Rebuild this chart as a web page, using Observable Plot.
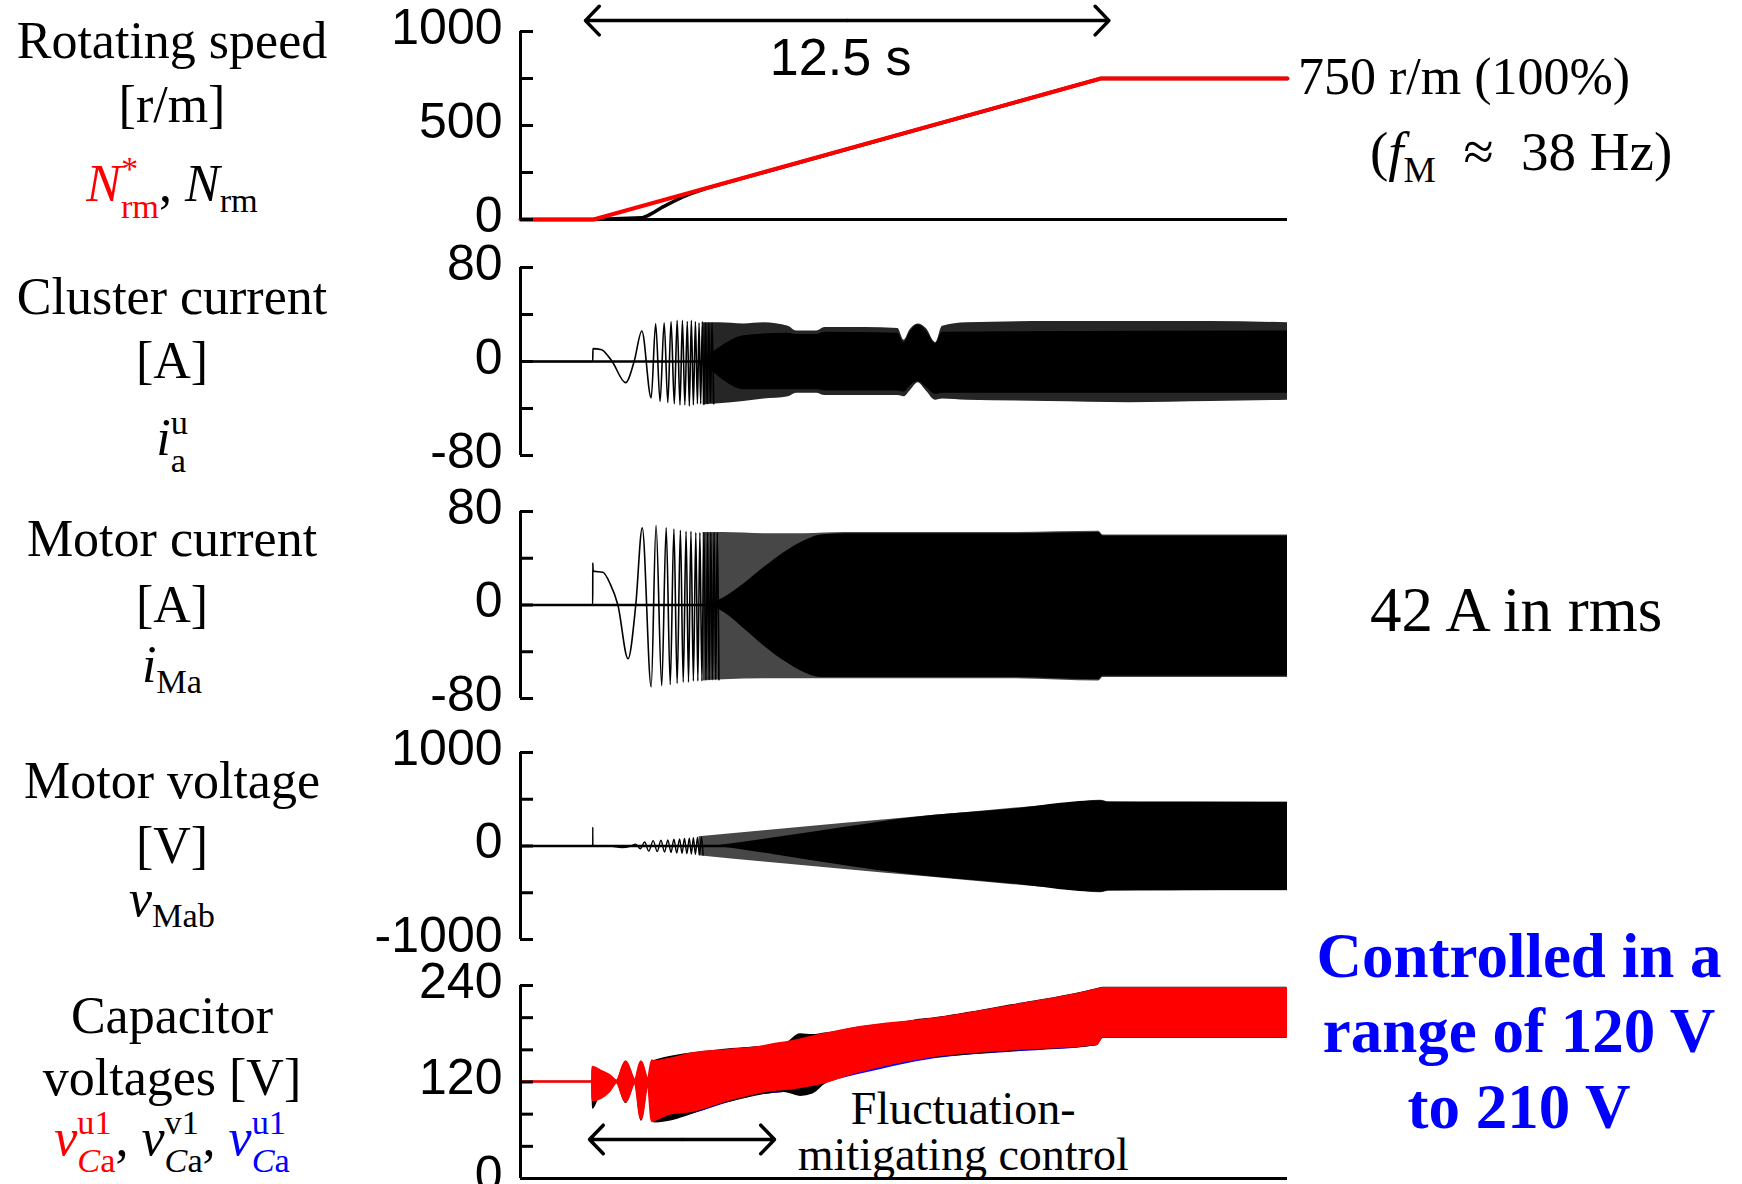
<!DOCTYPE html>
<html><head><meta charset="utf-8">
<script src="https://cdn.jsdelivr.net/npm/d3@7"></script>
<script src="https://cdn.jsdelivr.net/npm/@observablehq/plot@0.6"></script>
<style>
html,body{margin:0;padding:0;background:#fff}
#fig{position:relative;width:1742px;height:1184px;overflow:hidden;background:#fff;font-family:"Liberation Serif","Times New Roman",serif;color:#000}
.lab{position:absolute;left:0;width:344px;text-align:center;font-size:52px;line-height:1;white-space:nowrap}
.ann{position:absolute;white-space:nowrap;font-size:52px;line-height:1}
.pn{position:absolute;left:0}
.ms{display:inline-block;vertical-align:-0.5em;font-size:0.66em;line-height:1.12;text-align:left;font-style:normal}
.ms span{display:block}
.sb{font-size:0.66em;vertical-align:-0.32em;font-style:normal}
.red{color:#ff0000}.blue{color:#0000ff}
.big{font-weight:bold;color:#0000ff;font-size:63px;text-align:center;width:460px;left:1289px}
</style></head><body><div id="fig"></div>
<script>
// ---------------- data ----------------
const timeDomain = [0, 18.9];            // seconds across the plot width

// Panel 1: rotating speed [r/m]
const speedTicks = [0, 250, 500, 750, 1000];
const speedLabels = [0, 500, 1000];
const speedRef = [[0, 0], [1.8, 0], [14.3, 750], [18.9, 750]];            // N*rm
const speedActual = [[0, 0], [1.8, 0], [3.0, 9], [3.15, 22], [3.3, 40], [3.5, 66], [3.77, 96], [4.0, 120], [4.2, 138], [4.6, 167], [14.3, 750], [18.9, 750]]; // Nrm
const rampArrow = [[8.05, 1.6], [8.05, 14.5]];   // [from, to] of the 12.5 s arrow
const rampArrowLevel = 1058;
const rampText = [{t: 7.89, v: 856, label: "12.5 s"}];

// Panel 2: cluster current [A]
const clusterTicks = [-80, -40, 0, 40, 80];
const clusterLabels = [-80, 0, 80];
const clusterBase = [[0, 0], [4.9, 0]];
const clusterWave = [[0, 0], [1.78, 0], [1.785, 11], [2.0, 10], [2.15, 5], [2.26, 0], [2.59, -18], [2.8, 0], [2.99, 26], [3.22, -31],
  [3.33, 32], [3.44, -34], [3.54, 33], [3.63, -35], [3.71, 34], [3.79, -36], [3.86, 35], [3.93, -37], [3.99, 35], [4.05, -37],
  [4.11, 34], [4.16, -38], [4.21, 35], [4.26, -37], [4.31, 34], [4.36, -36], [4.40, 33], [4.44, -36], [4.48, 34], [4.52, -37],
  [4.56, 33], [4.60, -36], [4.64, 33], [4.68, -35], [4.72, 33], [4.76, -36]];
const clusterOuter = [[4.5, 33, -37], [4.9, 33, -36], [5.5, 32, -34], [6.0, 33, -32], [6.6, 30, -30], [6.8, 26, -27], [7.3, 26, -27],
  [7.5, 29, -29], [8.5, 29, -29], [9.3, 28, -29], [9.45, 18, -30], [9.6, 27, -25], [9.8, 32, -18], [10.0, 28, -25], [10.23, 16, -33],
  [10.4, 30, -32], [11, 33, -33], [13, 34, -34], [15, 34, -35], [17, 34, -34], [18.9, 33, -33]];
const clusterInner = [[4.6, 4, -4], [5.0, 14, -16], [5.5, 22, -24], [6.6, 24, -24], [6.8, 23, -24], [7.3, 23, -24], [7.5, 25, -25],
  [9.3, 24, -25], [9.45, 16, -26], [9.6, 25, -21], [9.8, 31, -17], [10.0, 26, -22], [10.23, 15, -28], [10.4, 25, -27], [18.9, 26, -27]];

// Panel 3: motor current [A]
const motorTicks = [-80, -40, 0, 40, 80];
const motorLabels = [-80, 0, 80];
const motorBase = [[0, 0], [4.9, 0]];
const motorWave = [[0, 0], [1.78, 0], [1.781, 36], [1.79, 29], [2.03, 28], [2.21, 18], [2.40, 0], [2.65, -46], [2.84, 0], [3.0, 66],
  [3.22, -70], [3.34, 68], [3.48, -69], [3.59, 66], [3.69, -68], [3.78, 65], [3.86, -67], [3.94, 64], [4.01, -66], [4.08, 63],
  [4.14, -66], [4.20, 63], [4.26, -65], [4.32, 62], [4.37, -65], [4.42, 62], [4.47, -65], [4.52, 62], [4.57, -64], [4.61, 62],
  [4.65, -64], [4.69, 62], [4.73, -64], [4.77, 62], [4.81, -64], [4.85, 62], [4.89, -64]];
const motorOuter = [[4.5, 62, -65], [5, 62, -64], [6, 61, -63], [7, 61, -63], [8, 62, -63], [10, 62, -63], [12, 62, -63],
  [14.25, 63, -65], [14.35, 60, -62], [16, 60, -62], [18.9, 60, -62]];
const motorInner = [[4.6, 0, 0], [5.0, 6, -6], [5.5, 18, -20], [6.0, 32, -35], [6.5, 45, -48], [7.0, 55, -58], [7.4, 60, -62],
  [8, 61, -62], [10, 61, -62], [12, 61, -62], [14.25, 62, -64], [14.35, 59, -61], [16, 59, -61], [18.9, 59, -61]];

// Panel 4: motor voltage [V]
const voltTicks = [-1000, -500, 0, 500, 1000];
const voltLabels = [-1000, 0, 1000];
const voltBase = [[0, 0], [5.5, 0]];
const voltWave = [[0, 0], [1.78, 0], [1.781, 200], [1.783, 0], [2.2, 0], [2.5, -17], [2.7, -4], [2.84, 20], [2.95, -30], [3.06, 42],
  [3.16, -55], [3.27, 57], [3.37, -60], [3.46, 62], [3.55, -64], [3.63, 66], [3.71, -69], [3.78, 72], [3.85, -74], [3.92, 76],
  [3.98, -78], [4.04, 80], [4.10, -82], [4.16, 84], [4.21, -86], [4.26, 88], [4.31, -90], [4.36, 92], [4.41, -94], [4.46, 96], [4.50, -98]];
const voltOuter = [[4.4, 100, -103], [6, 164, -170], [8, 242, -250], [10, 320, -328], [12, 398, -408], [13.5, 455, -465],
  [14.3, 490, -500], [14.5, 472, -483], [16, 470, -480], [18.9, 470, -478]];
const voltInner = [[4.8, 0, 0], [6.3, 90, -95], [8, 200, -210], [9.6, 300, -305], [12, 390, -400], [14.3, 485, -495],
  [14.5, 468, -478], [18.9, 466, -476]];

// Panel 5: capacitor voltages [V]  (t, upper, lower)
const capTicks = [0, 40, 80, 120, 160, 200, 240];
const capLabels = [0, 120, 240];
const capRed = [[0, 120, 120], [1.78, 120, 120], [1.785, 138, 97], [2.0, 133, 100], [2.2, 128, 108], [2.38, 121, 119], [2.6, 145, 95],
  [2.83, 122, 119], [2.98, 145, 74], [3.15, 122, 118], [3.25, 146, 71], [3.3, 145, 72], [3.68, 148, 80], [4.27, 155, 84], [5.1, 159, 97],
  [5.91, 163, 107], [6.33, 167, 110], [6.73, 170, 112], [7.4, 178, 118], [8.3, 187, 132], [10.2, 198, 152], [12.1, 214, 160],
  [14.2, 234, 167], [14.35, 236, 176], [16, 236, 176], [18.87, 236, 176]];
const capBlack = [[0, 120, 120], [1.78, 120, 120], [1.785, 124, 87], [1.9, 132, 98], [2.38, 121, 119], [2.6, 145, 94], [2.83, 122, 119],
  [2.98, 145, 72], [3.15, 122, 118], [3.3, 146, 70], [5.1, 160, 95], [6.5, 166, 108], [6.9, 179, 103], [7.2, 178, 106], [7.5, 180, 118],
  [9.4, 193, 146], [9.7, 196, 149], [10.2, 199, 151], [12.1, 215, 159], [14.2, 235, 166], [14.35, 237, 175], [18.87, 237, 175]];
const capBlue = [[3.3, 145, 70], [4.3, 155, 81], [5.1, 160, 94], [5.9, 164, 104], [6.5, 168, 107], [8.3, 188, 129], [10.2, 199, 149],
  [12.1, 215, 157], [14.2, 235, 165], [14.35, 237, 174], [18.87, 237, 174]];
const flucArrow = [[4.0, 1.7], [4.0, 6.26]];
const flucArrowLevel = 48.5;
const flucText = [{t: 10.91, v: 86, label: "Fluctuation-"}, {t: 10.91, v: 28.6, label: "mitigating control"}];

// ---------------- drawing ----------------
const fig = document.getElementById("fig");
const RED = "#ff0000", BLUE = "#0000ff";
const T = d => d[0], V = d => d[1], HI = d => d[1], LO = d => d[2];

function addPanel(p) {
  const mt = 40, mb = 8;
  const svg = Plot.plot({
    width: 1300, height: (p.yBot - p.yTop) + mt + mb,
    marginLeft: 520, marginRight: 13, marginTop: mt, marginBottom: mb,
    x: {domain: timeDomain, axis: null},
    y: {domain: p.domain, axis: null},
    style: {background: "transparent", overflow: "visible", fontFamily: "'Liberation Sans', Arial, sans-serif", fontSize: "50px", color: "black"},
    marks: [
      ...p.marks,
      Plot.ruleX([0], {stroke: "black", strokeWidth: 3}),
      Plot.axisY(p.ticks, {tickSize: 13, dx: 13, fill: "none", stroke: "black", strokeWidth: 3}),
      Plot.axisY(p.labels, {tickSize: 0, tickPadding: 18, dy: -4, tickFormat: d => String(d), label: null, fontSize: 50, fill: "black"})
    ]
  });
  svg.classList.add("pn");
  svg.style.top = (p.yTop - mt) + "px";
  svg.style.position = "absolute";
  svg.style.left = "0px";
  fig.appendChild(svg);
}

function arrows(pairs, level, opts = {}) {
  return Plot.arrow(pairs, {x1: d => d[0], x2: d => d[1], y1: () => level, y2: () => level,
    stroke: "black", strokeWidth: 3.5, headLength: 8.5, headAngle: 92, ...opts});
}

function band(data, fill, extra = {}) {
  return Plot.areaY(data, {x: T, y1: LO, y2: HI, fill, curve: "monotone-x", ...extra});
}

addPanel({
  yTop: 31, yBot: 219, domain: [0, 1000], ticks: speedTicks, labels: speedLabels,
  marks: [
    Plot.ruleY([0], {stroke: "black", strokeWidth: 3}),
    Plot.line(speedActual, {x: T, y: V, stroke: "black", strokeWidth: 3.5}),
    Plot.line(speedRef, {x: T, y: V, stroke: RED, strokeWidth: 4}),
    arrows(rampArrow, rampArrowLevel),
    Plot.text(rampText, {x: "t", y: "v", text: "label", fontSize: 52, fill: "black"})
  ]
});

addPanel({
  yTop: 267, yBot: 455, domain: [-80, 80], ticks: clusterTicks, labels: clusterLabels,
  marks: [
    band(clusterOuter, "black", {fillOpacity: 0.85}),
    band(clusterInner, "black"),
    Plot.line(clusterBase, {x: T, y: V, stroke: "black", strokeWidth: 2.5}),
    Plot.line(clusterWave, {x: T, y: V, stroke: "black", strokeWidth: 1.6, curve: "monotone-x"})
  ]
});

addPanel({
  yTop: 511, yBot: 698, domain: [-80, 80], ticks: motorTicks, labels: motorLabels,
  marks: [
    band(motorOuter, "black", {fillOpacity: 0.72}),
    band(motorInner, "black"),
    Plot.line(motorBase, {x: T, y: V, stroke: "black", strokeWidth: 2.5}),
    Plot.line(motorWave, {x: T, y: V, stroke: "black", strokeWidth: 1.6, curve: "monotone-x"})
  ]
});

addPanel({
  yTop: 752, yBot: 939, domain: [-1000, 1000], ticks: voltTicks, labels: voltLabels,
  marks: [
    band(voltOuter, "black", {fillOpacity: 0.72}),
    band(voltInner, "black"),
    Plot.line(voltBase, {x: T, y: V, stroke: "black", strokeWidth: 2.5}),
    Plot.line(voltWave, {x: T, y: V, stroke: "black", strokeWidth: 1.4, curve: "monotone-x"})
  ]
});

addPanel({
  yTop: 985, yBot: 1178, domain: [0, 240], ticks: capTicks, labels: capLabels,
  marks: [
    Plot.ruleY([0], {stroke: "black", strokeWidth: 3}),
    band(capBlue, BLUE),
    band(capBlack, "black", {stroke: "black", strokeWidth: 1.5}),
    band(capRed, RED, {stroke: RED, strokeWidth: 2.5}),
    arrows(flucArrow, flucArrowLevel),
    Plot.text(flucText, {x: "t", y: "v", text: "label", fontSize: 46, fontFamily: "'Liberation Serif', serif", fill: "black"})
  ]
});

// ---------------- text labels (HTML) ----------------
function put(cls, top, html, extraStyle = "") {
  const d = document.createElement("div");
  d.className = cls;
  d.style.cssText = `top:${top}px;` + extraStyle;
  d.innerHTML = html;
  fig.appendChild(d);
}
const lab = (yc, html) => put("lab", Math.round(yc - 29), html);
lab(44, "Rotating speed");
lab(108, "[r/m]");
lab(178, `<span class="red"><i>N</i><span class="ms"><span>*</span><span>rm</span></span></span>, <i>N</i><span class="sb">rm</span>`);
lab(300, "Cluster current");
lab(364, "[A]");
lab(432, `<i>i</i><span class="ms"><span>u</span><span>a</span></span>`);
lab(542, "Motor current");
lab(608, "[A]");
lab(668, `<i>i</i><span class="sb">Ma</span>`);
lab(784, "Motor voltage");
lab(849, "[V]");
lab(902, `<i>v</i><span class="sb">Mab</span>`);
lab(1019, "Capacitor");
lab(1081, "voltages [V]");
lab(1132, `<span class="red"><i>v</i><span class="ms"><span>u1</span><span><i>C</i>a</span></span></span>, <i>v</i><span class="ms"><span>v1</span><span><i>C</i>a</span></span>, <span class="blue"><i>v</i><span class="ms"><span>u1</span><span><i>C</i>a</span></span></span>`);

put("ann", 51, "750 r/m (100%)", "left:1298px;");
put("ann", 124, `(<i>f</i><span class="sb">M</span>&nbsp; ≈&nbsp; 38 Hz)`, "left:1370px;font-size:55px;");
put("ann", 579, "42 A in rms", "left:1370px;font-size:63px;");
put("ann big", 925, "Controlled in a");
put("ann big", 1000, "range of 120 V");
put("ann big", 1076, "to 210 V");
</script></body></html>
